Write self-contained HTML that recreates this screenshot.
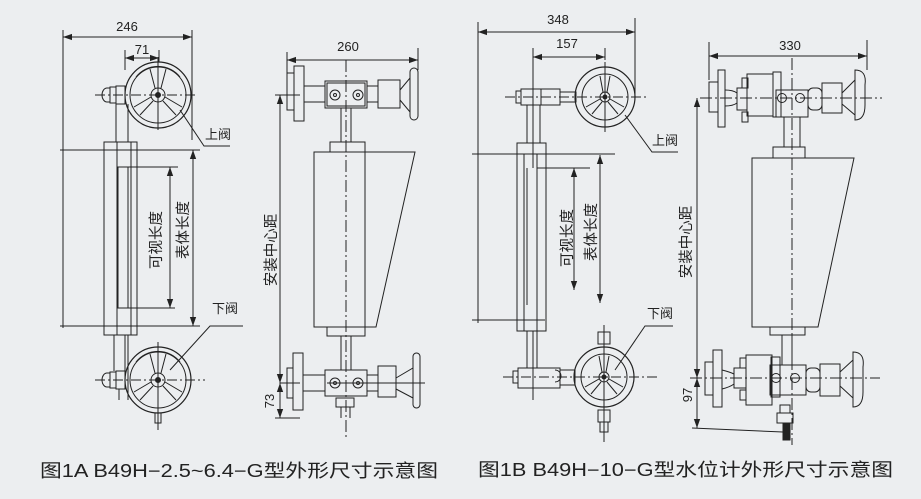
<!DOCTYPE html>
<html><head><meta charset="utf-8"><style>
html,body{margin:0;padding:0;background:#eceef0;}
svg{display:block}
text{font-family:"Liberation Sans","Noto Sans CJK SC",sans-serif;fill:#222}
</style></head><body>
<svg width="921" height="499" viewBox="0 0 921 499" xmlns="http://www.w3.org/2000/svg">
<rect width="921" height="499" fill="#eceef0"/>
<defs>
<marker id="a" viewBox="0 0 10 10" refX="10" refY="5" markerWidth="9" markerHeight="9" orient="auto-start-reverse"><path d="M0,1.5 L10,5 L0,8.5 Z" fill="#222"/></marker>
<g id="wheel">
<circle r="33" fill="none" stroke="#222" stroke-width="1.2"/>
<circle r="28" fill="none" stroke="#222"/>
<circle r="7" fill="none" stroke="#222"/>
<circle r="2.5" fill="#222"/>
<path d="M-3,-7 L-8,-26 M3,-7 L8,-26 M-7,2 L-24,12 M-5,6 L-18,20 M7,2 L24,12 M5,6 L18,20" stroke="#222" fill="none"/>
<path d="M-22,-18 A28,28 0 0 1 22,-18" fill="none" stroke="#222"/>
</g>
<g id="wheel2">
<circle r="30" fill="none" stroke="#222" stroke-width="1.2"/>
<circle r="23" fill="none" stroke="#222"/>
<circle r="5" fill="none" stroke="#222"/>
<circle r="2" fill="#222"/>
<path d="M-2,-5 L-5,-21 M2,-5 L5,-21 M-5,2 L-19,10 M-3,5 L-13,17 M5,2 L19,10 M3,5 L13,17" stroke="#222" fill="none"/>
</g>
</defs>
<g stroke="#222" fill="none" stroke-width="1">
<!-- FIG 1A left -->
<line x1="63" y1="30" x2="63" y2="328"/>
<line x1="192" y1="30" x2="192" y2="140"/>
<line x1="63" y1="37" x2="192" y2="37" marker-start="url(#a)" marker-end="url(#a)"/>
<line x1="125" y1="50" x2="125" y2="70"/>
<line x1="159" y1="50" x2="159" y2="62"/>
<line x1="125" y1="58" x2="159" y2="58" marker-start="url(#a)" marker-end="url(#a)"/>
<use href="#wheel" x="158" y="95"/>
<use href="#wheel" x="158" y="380"/>
<line x1="95" y1="95" x2="198" y2="95" stroke-dasharray="10 3 2 3"/>
<line x1="158" y1="57" x2="158" y2="130"/>
<line x1="95" y1="380" x2="205" y2="380" stroke-dasharray="10 3 2 3"/>
<line x1="158" y1="342" x2="158" y2="430"/>
<path d="M110,88 h-3 a5,7 0 0 0 0,14 h3 z"/>
<rect x="110" y="87" width="6" height="16"/>
<rect x="116" y="86" width="9" height="18"/>
<path d="M110,373 h-3 a5,7 0 0 0 0,14 h3 z"/>
<rect x="110" y="372" width="6" height="16"/>
<rect x="116" y="371" width="9" height="18"/>
<line x1="116" y1="104" x2="116" y2="142"/><line x1="128" y1="104" x2="128" y2="142"/>
<line x1="114" y1="335" x2="114" y2="371"/><line x1="125" y1="335" x2="125" y2="371"/>
<line x1="119" y1="389" x2="119" y2="400"/><line x1="128" y1="335" x2="128" y2="400"/>
<rect x="104" y="142" width="33" height="193"/>
<line x1="117" y1="142" x2="117" y2="335"/>
<line x1="131" y1="142" x2="131" y2="335"/>
<rect x="118" y="167" width="10" height="141"/>
<rect x="155" y="413" width="6" height="10"/>
<line x1="60" y1="150" x2="200" y2="150"/>
<line x1="60" y1="326" x2="200" y2="326"/>
<line x1="128" y1="167" x2="178" y2="167"/>
<line x1="128" y1="308" x2="175" y2="308"/>
<line x1="193" y1="150" x2="193" y2="326" marker-start="url(#a)" marker-end="url(#a)"/>
<line x1="170" y1="167" x2="170" y2="308" marker-start="url(#a)" marker-end="url(#a)"/>
<polyline points="180,110 204,146 230,146"/>
<polyline points="170,370 210,326 243,326"/>
<!-- FIG 1A right -->
<line x1="287" y1="52" x2="287" y2="75"/>
<line x1="418" y1="48" x2="418" y2="70"/>
<line x1="287" y1="60" x2="418" y2="60" marker-start="url(#a)" marker-end="url(#a)"/>
<rect x="294" y="66" width="10" height="55"/>
<rect x="287" y="73" width="7" height="37"/>
<rect x="304" y="86" width="21" height="16"/>
<rect x="325" y="81" width="42" height="27"/>
<rect x="327" y="83" width="38" height="23"/>
<circle cx="335" cy="95" r="5"/><circle cx="335" cy="95" r="1.5"/>
<circle cx="358" cy="95" r="5"/><circle cx="358" cy="95" r="1.5"/>
<rect x="367" y="86" width="11" height="16"/>
<rect x="378" y="80" width="22" height="28"/>
<path d="M400,90 L410,78 L410,112 L400,100"/>
<rect x="410" y="68" width="8" height="52" rx="4"/>
<line x1="275" y1="95" x2="300" y2="95"/>
<line x1="341" y1="108" x2="341" y2="142"/><line x1="351" y1="108" x2="351" y2="142"/>
<rect x="330" y="142" width="35" height="10"/>
<rect x="314" y="152" width="51" height="175"/>
<polyline points="365,152 415,152 376,327 365,327"/>
<rect x="327" y="327" width="38" height="9"/>
<line x1="341" y1="336" x2="341" y2="370"/><line x1="351" y1="336" x2="351" y2="370"/>
<rect x="293" y="353" width="10" height="57"/>
<rect x="287" y="368" width="6" height="30"/>
<rect x="303" y="375" width="22" height="16"/>
<rect x="325" y="370" width="42" height="26"/>
<circle cx="335" cy="383" r="5"/><circle cx="335" cy="383" r="1.5"/>
<circle cx="358" cy="383" r="5"/><circle cx="358" cy="383" r="1.5"/>
<rect x="367" y="375" width="11" height="16"/>
<rect x="378" y="366" width="18" height="31"/>
<path d="M396,378 L413,368 L413,398 L396,389"/>
<rect x="413" y="353" width="7" height="55" rx="3.5"/>
<line x1="327" y1="383" x2="425" y2="383"/>
<rect x="336" y="398" width="18" height="9"/>
<line x1="341" y1="407" x2="341" y2="418"/><line x1="350" y1="407" x2="350" y2="418"/>
<line x1="346" y1="60" x2="346" y2="438" stroke-dasharray="12 3 2 3"/>
<line x1="280" y1="95" x2="280" y2="383" marker-start="url(#a)" marker-end="url(#a)"/>
<line x1="280" y1="383" x2="280" y2="418" marker-start="url(#a)" marker-end="url(#a)"/>
<line x1="275" y1="418" x2="300" y2="418"/>
<line x1="280" y1="383" x2="300" y2="383"/>
<!-- FIG 1B left -->
<line x1="478" y1="22" x2="478" y2="323"/>
<line x1="635" y1="18" x2="635" y2="96"/>
<line x1="478" y1="32" x2="635" y2="32" marker-start="url(#a)" marker-end="url(#a)"/>
<line x1="533" y1="48" x2="533" y2="168"/>
<line x1="605" y1="48" x2="605" y2="60"/>
<line x1="533" y1="57" x2="605" y2="57" marker-start="url(#a)" marker-end="url(#a)"/>
<use href="#wheel2" x="605" y="97"/>
<line x1="505" y1="97" x2="647" y2="97" stroke-dasharray="10 3 2 3"/>
<line x1="605" y1="62" x2="605" y2="132"/>
<rect x="516" y="91" width="5" height="12"/>
<rect x="521" y="89" width="39" height="16"/>
<line x1="541" y1="89" x2="541" y2="105"/>
<rect x="560" y="92" width="16" height="10"/>
<line x1="527" y1="105" x2="527" y2="143"/><line x1="540" y1="105" x2="540" y2="143"/>
<rect x="517" y="143" width="29" height="188"/>
<line x1="524" y1="154" x2="524" y2="331"/><line x1="537" y1="154" x2="537" y2="331"/>
<line x1="527" y1="168" x2="527" y2="305"/>
<line x1="472" y1="154" x2="615" y2="154"/>
<line x1="472" y1="320" x2="545" y2="320"/>
<line x1="537" y1="168" x2="590" y2="168"/>
<line x1="600" y1="155" x2="600" y2="303" marker-start="url(#a)" marker-end="url(#a)"/>
<line x1="574" y1="168" x2="574" y2="290" marker-start="url(#a)" marker-end="url(#a)"/>
<line x1="527" y1="331" x2="527" y2="368"/><line x1="537" y1="331" x2="537" y2="368"/>
<rect x="513" y="371" width="5" height="12"/>
<rect x="518" y="368" width="42" height="20"/>
<path d="M555,370 a6,6 0 0 1 0,12"/>
<rect x="560" y="370" width="15" height="15"/>
<use href="#wheel2" x="604" y="377"/>
<rect x="598" y="332" width="12" height="12"/>
<rect x="598" y="410" width="12" height="12"/>
<rect x="600" y="422" width="8" height="10"/>
<line x1="503" y1="377" x2="660" y2="377" stroke-dasharray="10 3 2 3"/>
<line x1="533" y1="331" x2="533" y2="400"/>
<line x1="604" y1="325" x2="604" y2="442"/>
<polyline points="625,115 652,152 678,152"/>
<polyline points="615,370 645,326 673,326"/>
<!-- FIG 1B right -->
<line x1="709" y1="42" x2="709" y2="80"/>
<line x1="867" y1="40" x2="867" y2="70"/>
<line x1="709" y1="56" x2="867" y2="56" marker-start="url(#a)" marker-end="url(#a)"/>
<rect x="718" y="70" width="7" height="57"/>
<rect x="709" y="82" width="9" height="30"/>
<path d="M725,90 q8,0 12,3 v10 q-4,3 -12,3"/>
<rect x="737" y="88" width="10" height="22"/>
<rect x="747" y="74" width="26" height="42"/>
<rect x="742" y="78" width="6" height="10"/><rect x="742" y="112" width="6" height="10"/>
<rect x="773" y="72" width="8" height="45"/>
<rect x="776" y="90" width="32" height="27"/>
<circle cx="782" cy="98" r="4.5"/><circle cx="800" cy="98" r="4.5"/>
<rect x="808" y="88" width="14" height="22" rx="5"/>
<rect x="822" y="83" width="20" height="30"/>
<path d="M842,93 L855,80 L855,115 L842,104"/>
<path d="M855,70 q12,0 10,15 v20 q0,15 -10,15 z"/>
<line x1="700" y1="98" x2="882" y2="98" stroke-dasharray="12 3 2 3"/>
<line x1="784" y1="117" x2="784" y2="147"/><line x1="800" y1="117" x2="800" y2="147"/>
<rect x="773" y="147" width="32" height="11"/>
<polygon points="752,158 854,158 818,327 752,327"/>
<rect x="770" y="327" width="35" height="8"/>
<line x1="782" y1="335" x2="782" y2="365"/><line x1="792" y1="335" x2="792" y2="365"/>
<rect x="713" y="350" width="9" height="57"/>
<rect x="705" y="362" width="8" height="33"/>
<path d="M722,370 q8,2 12,4 v10 q-4,3 -12,5"/>
<rect x="734" y="368" width="12" height="20"/>
<rect x="746" y="355" width="26" height="50"/>
<rect x="740" y="358" width="6" height="10"/><rect x="740" y="390" width="6" height="10"/>
<rect x="771" y="357" width="9" height="40"/>
<rect x="770" y="365" width="36" height="30"/>
<circle cx="776" cy="378" r="4.5"/><circle cx="795" cy="378" r="4.5"/>
<rect x="806" y="368" width="14" height="24" rx="5"/>
<rect x="820" y="364" width="20" height="32"/>
<path d="M840,372 L853,360 L853,398 L840,386"/>
<path d="M853,352 q12,0 10,15 v25 q0,15 -10,15 z"/>
<line x1="690" y1="378" x2="880" y2="378" stroke-dasharray="12 3 2 3"/>
<rect x="777" y="413" width="16" height="10"/>
<rect x="780" y="405" width="10" height="8"/>
<rect x="783" y="423" width="7" height="17" fill="#222"/>
<line x1="792" y1="58" x2="792" y2="445" stroke-dasharray="12 3 2 3"/>
<line x1="697" y1="98" x2="697" y2="378" marker-start="url(#a)" marker-end="url(#a)"/>
<line x1="697" y1="378" x2="697" y2="428" marker-start="url(#a)" marker-end="url(#a)"/>
<line x1="692" y1="428" x2="783" y2="432"/>
</g>
<g font-size="13">
<text x="127" y="31" text-anchor="middle">246</text>
<text x="142" y="54" text-anchor="middle">71</text>
<text x="348" y="51" text-anchor="middle">260</text>
<text x="558" y="24" text-anchor="middle">348</text>
<text x="567" y="48" text-anchor="middle">157</text>
<text x="790" y="50" text-anchor="middle">330</text>
<text x="205" y="139">上阀</text>
<text x="212" y="313">下阀</text>
<text x="652" y="145">上阀</text>
<text x="647" y="318">下阀</text>
<text transform="translate(274,401) rotate(-90)" text-anchor="middle">73</text>
<text transform="translate(692,395) rotate(-90)" text-anchor="middle">97</text>
</g>
<g font-size="14.5">
<text transform="translate(161,240) rotate(-90)" text-anchor="middle">可视长度</text>
<text transform="translate(188,230) rotate(-90)" text-anchor="middle">表体长度</text>
<text transform="translate(276,250) rotate(-90)" text-anchor="middle">安装中心距</text>
<text transform="translate(572,238) rotate(-90)" text-anchor="middle">可视长度</text>
<text transform="translate(596,232) rotate(-90)" text-anchor="middle">表体长度</text>
<text transform="translate(691,242) rotate(-90)" text-anchor="middle">安装中心距</text>
</g>
<text x="40" y="477" font-size="18" textLength="398" lengthAdjust="spacingAndGlyphs">图1A  B49H−2.5~6.4−G型外形尺寸示意图</text>
<text x="478" y="476" font-size="18" textLength="415" lengthAdjust="spacingAndGlyphs">图1B  B49H−10−G型水位计外形尺寸示意图</text>
</svg>
</body></html>
